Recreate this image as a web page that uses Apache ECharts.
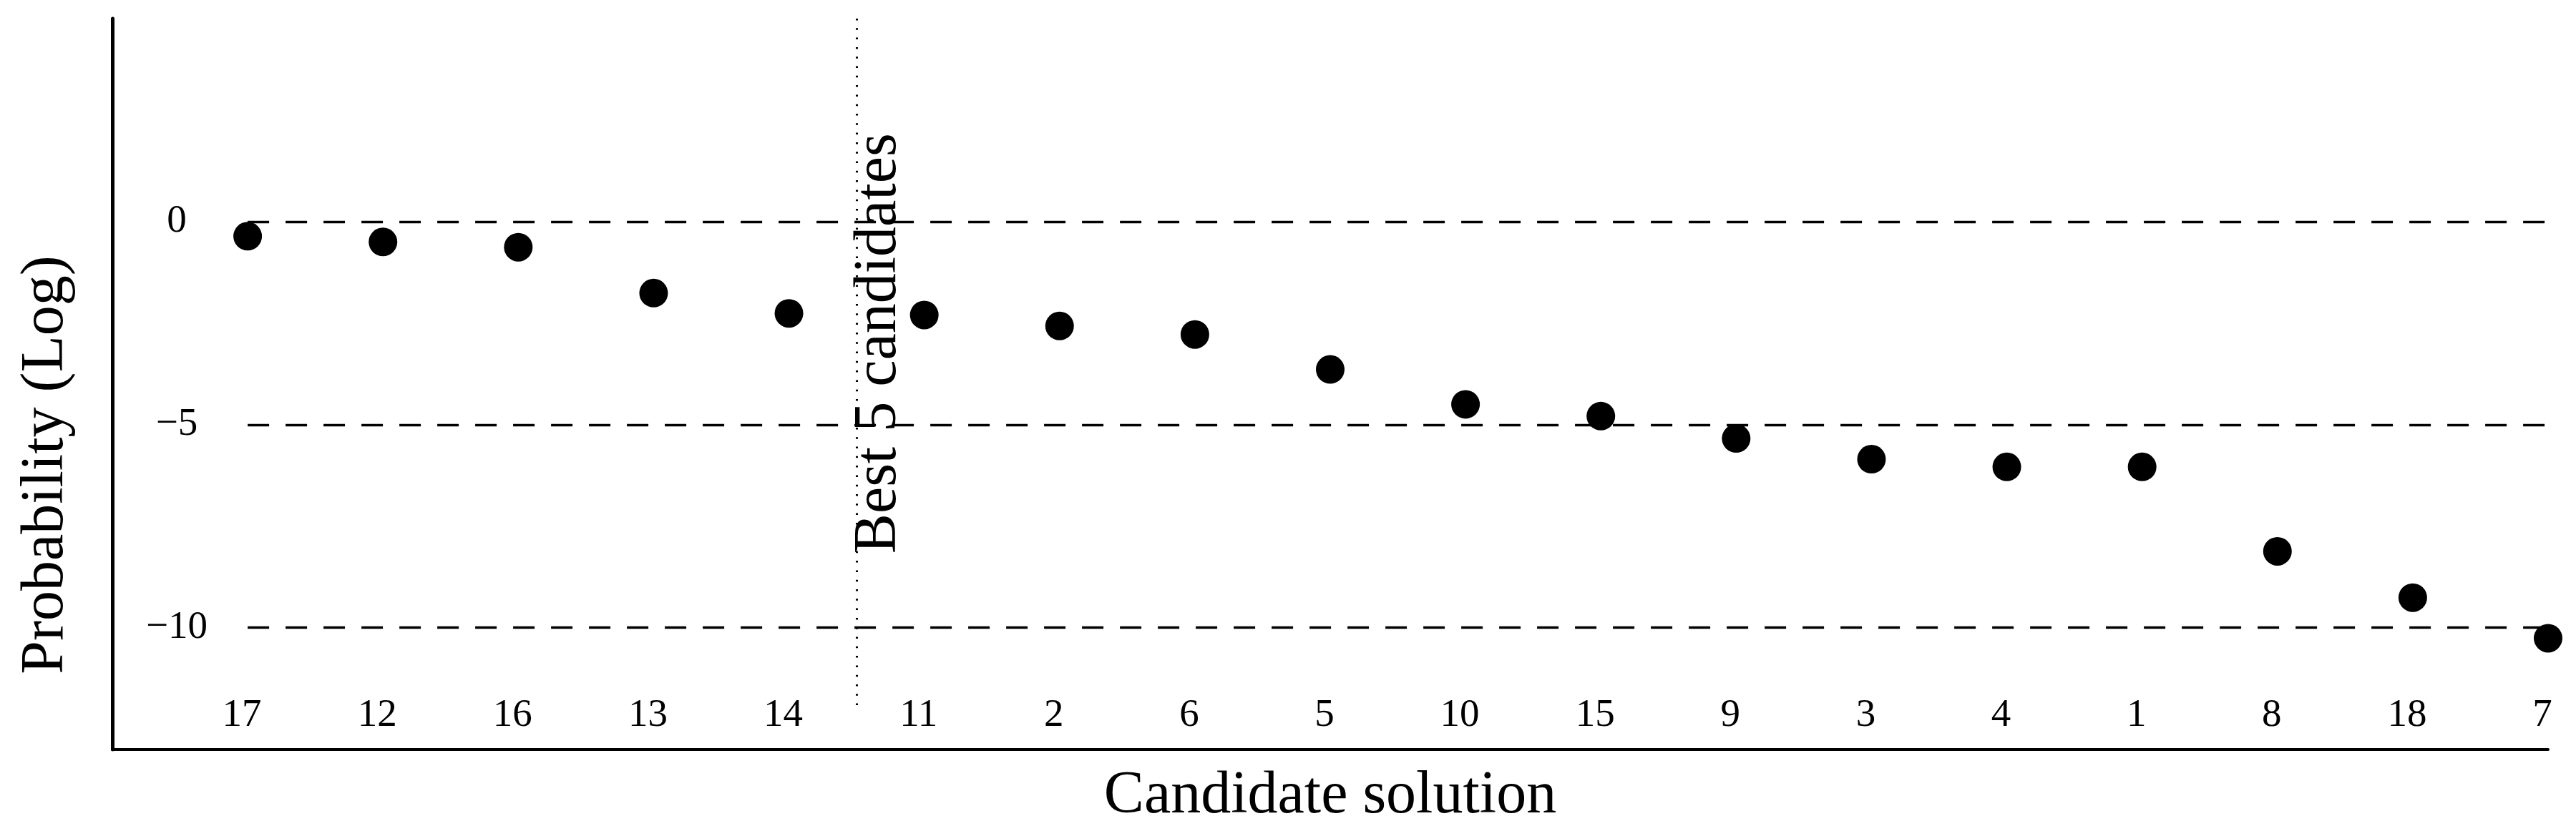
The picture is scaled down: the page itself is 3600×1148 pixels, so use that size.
<!DOCTYPE html>
<html><head><meta charset="utf-8">
<script src="https://cdn.jsdelivr.net/npm/echarts@6/dist/echarts.min.js"></script>
<style>html,body{margin:0;padding:0;background:#fff}#c{width:3600px;height:1148px}</style>
</head><body><div id="c"></div>
<script>
const categories = ['17','12','16','13','14','11','2','6','5','10','15','9','3','4','1','8','18','7'];
const logProbability = [-0.36,-0.50,-0.63,-1.76,-2.26,-2.30,-2.57,-2.78,-3.64,-4.50,-4.79,-5.34,-5.85,-6.04,-6.04,-8.12,-9.26,-10.26];
const yTickValues = [0, -5, -10];
const yTickLabels = ['0', '\u22125', '\u221210'];
const yMin = -13, yMax = 5;
const bestCount = 5;
const dividerTop = 5, dividerBottom = -12;
const annotationText = 'Best 5 candidates';
const annotationY = -3;
const xTitle = 'Candidate solution';
const yTitle = 'Probability (Log)';

const FONT = '"Liberation Serif", "DejaVu Serif", serif';
const chart = echarts.init(document.getElementById('c'), null, {renderer: 'canvas'});
const points = categories.map((c, i) => [i, logProbability[i]]);
const gridLines = yTickValues.map(v => [
  {coord: [0, v], lineStyle: {type: [30, 23], width: 3.3, color: '#000'}},
  {coord: [categories.length - 1, v]}
]);
const divider = [
  {coord: [bestCount - 0.5, dividerTop], lineStyle: {type: [2.5, 10.8], width: 3, color: '#000'}},
  {coord: [bestCount - 0.5, dividerBottom]}
];

chart.setOption({
  animation: false,
  backgroundColor: '#fff',
  grid: {left: 157, right: 39, top: 26, bottom: 100, containLabel: false, outerBoundsMode: 'none'},
  xAxis: {
    type: 'value', min: -1, max: categories.length - 1, interval: 1,
    axisLine: {show: true, onZero: false, lineStyle: {color: '#000', width: 4}},
    axisTick: {show: false},
    splitLine: {show: false},
    axisLabel: {
      inside: true, margin: 47, verticalAlign: 'middle', padding: [0, 16, 0, 0],
      fontSize: 55, fontFamily: FONT, color: '#000',
      showMinLabel: true, showMaxLabel: true,
      formatter: v => { const i = Math.round(v); return (i >= 0 && i < categories.length) ? categories[i] : ''; }
    },
    name: xTitle, nameLocation: 'middle', nameGap: 24,
    nameTextStyle: {fontSize: 84, fontFamily: FONT, color: '#000'}
  },
  yAxis: {
    type: 'value', min: yMin, max: yMax, interval: 1,
    axisLine: {show: true, onZero: false, lineStyle: {color: '#000', width: 5}},
    axisTick: {show: false},
    splitLine: {show: false},
    axisLabel: {
      inside: true, margin: 90, align: 'center',
      fontSize: 55, fontFamily: FONT, color: '#000',
      formatter: v => { const i = yTickValues.indexOf(Math.round(v)); return i >= 0 ? yTickLabels[i] : ''; }
    },
    name: yTitle, nameLocation: 'middle', nameRotate: 90, nameGap: 50,
    nameTextStyle: {fontSize: 84, fontFamily: FONT, color: '#000', padding: [0, 226, 0, 0]}
  },
  series: [{
    type: 'scatter',
    z: 3,
    data: points,
    symbol: 'circle',
    symbolSize: 40,
    itemStyle: {color: '#000', opacity: 1},
    markLine: {
      z: 1, silent: true, symbol: ['none', 'none'], animation: false,
      label: {show: false},
      emphasis: {disabled: true},
      data: gridLines.concat([divider])
    },
    markPoint: {
      z: 4, silent: true, animation: false,
      symbol: 'circle', symbolSize: 0,
      itemStyle: {color: 'rgba(0,0,0,0)'},
      label: {
        show: true, position: 'inside', rotate: 90, offset: [0, 32],
        formatter: annotationText, fontSize: 84, fontFamily: FONT, color: '#000'
      },
      data: [{coord: [bestCount - 0.5, annotationY]}]
    }
  }]
});
</script></body></html>
